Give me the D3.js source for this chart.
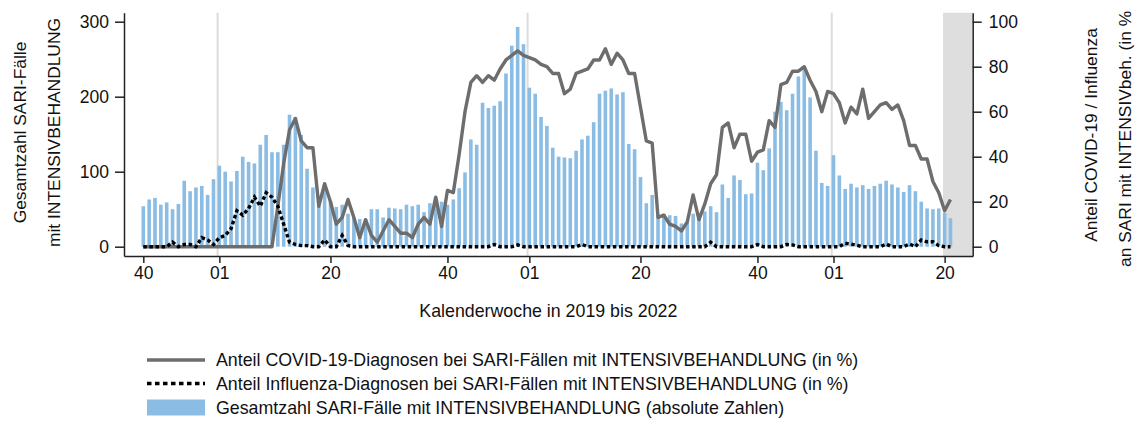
<!DOCTYPE html>
<html>
<head>
<meta charset="utf-8">
<script src="https://cdn.jsdelivr.net/npm/d3@7"></script>
<style>
  body { margin: 0; background: #fff; }
  svg text { font-family: "Liberation Sans", Arial, sans-serif; fill: #111; }
</style>
</head>
<body>
<svg id="chart" width="1137" height="421"></svg>
<script>
// calendar weeks shown: 2019 W40 .. 2022 W21
const seasonYears = [2019, 2020, 2021, 2022];
const firstWeek = [40, 1, 1, 1];
const lastWeek = [52, 53, 52, 21];

// Gesamtzahl SARI-Faelle mit Intensivbehandlung (absolute Zahlen)
const sariCases = [
  54, 63, 65, 56, 59, 50, 57, 88, 74, 79, 81, 69, 90,
  108, 100, 87, 101, 120, 113, 111, 136, 149, 126, 126, 136, 176, 173, 149, 104, 79, 61,
  84, 61, 53, 56, 44, 38, 37, 37, 50, 50, 39, 52, 51, 50, 56, 54, 56, 46, 58, 57, 60,
  56, 63, 78, 99, 143, 136, 192, 185, 188, 194, 231, 268, 293, 270,
  212, 204, 173, 161, 132, 120, 119, 118, 128, 143, 148, 166, 204, 208, 211, 203, 206,
  137, 130, 93, 58, 69, 42, 44, 42, 41, 31, 33, 44, 38, 47, 54, 46, 83, 65, 95, 89, 70,
  71, 112, 102, 131, 180, 193, 182, 204, 227, 237, 199, 128, 85, 81,
  122, 95, 77, 84, 79, 82, 77, 81, 84, 88, 83, 79, 73, 82, 74, 60, 51, 50, 51, 45, 38
];

// Anteil COVID-19-Diagnosen (in %)
const covidShare = [
  0, 0, 0, 0, 0, 0, 0, 0, 0, 0, 0, 0, 0,
  0, 0, 0, 0, 0, 0, 0, 0, 0, 0, 18, 37, 52, 57, 47, 44, 44, 18,
  28, 20, 10, 13, 21, 13, 4, 12, 5, 2, 7, 12, 9, 6, 6, 4, 10, 13, 10, 22, 9,
  25, 24, 41, 60, 73, 76, 73, 76, 74, 79, 83, 85, 87, 85,
  84, 83, 81, 80, 77, 77, 68, 70, 77, 78, 79, 83, 83, 88, 81, 86, 83,
  77, 77, 62, 47, 46, 13, 14, 10, 9, 7, 11, 23, 12, 19, 28, 32, 53, 55, 44, 50, 50,
  38, 42, 43, 56, 53, 72, 73, 78, 78, 80, 74, 69, 60, 69,
  68, 64, 55, 62, 59, 70, 57, 60, 63, 64, 61, 63, 56, 45, 45, 39, 39, 29, 24, 16, 21
];

// Anteil Influenza-Diagnosen (in %)
const fluShare = [
  0, 0, 0, 0, 0, 2, 0, 1, 1, 0, 4, 3, 1,
  4, 5, 8, 16, 14, 17, 22, 18, 24, 22, 18, 10, 2, 1, 0.5, 0.5, 0, 0,
  3, 0, 0, 5, 0.5, 0, 0, 0, 0, 0, 0, 0, 0, 0, 0, 0, 0, 0, 0, 0, 0,
  0, 0, 0, 0, 0, 0, 0, 0, 1, 0, 0, 0, 0.8, 0,
  0, 0, 0, 0, 0, 0, 0, 0, 0, 1, 0, 0, 0, 0, 0, 0, 0,
  0, 0, 0, 0, 0, 0, 0, 0, 0, 0, 0, 0, 0, 0, 2, 0, 0, 0, 0, 0, 0,
  0, 1, 0, 0, 0, 0, 1, 0.8, 0, 0, 0, 0, 0, 0,
  0, 0, 1.5, 1.2, 0.6, 0, 0, 0, 0, 1.2, 0, 0, 0, 1.2, 0, 3, 2.2, 2.2, 0.5, 0, 0
];

const xTickWeeks = [40, 1, 20];
const shadeFrom = { year: 2022, week: 20 };

const legendLabels = [
  "Anteil COVID-19-Diagnosen bei SARI-Fällen mit INTENSIVBEHANDLUNG (in %)",
  "Anteil Influenza-Diagnosen bei SARI-Fällen mit INTENSIVBEHANDLUNG (in %)",
  "Gesamtzahl SARI-Fälle mit INTENSIVBEHANDLUNG (absolute Zahlen)"
];

// build the week list
let weeks = [];
seasonYears.forEach((y, k) => {
  for (let w = firstWeek[k]; w <= lastWeek[k]; w++) weeks.push({ year: y, week: w });
});

const BAR_COLOR = "#8bbde4";
const COVID_COLOR = "#6d6d6d";

const svg = d3.select("#chart");

const x = d3.scaleLinear().domain([-3.3, weeks.length + 2.8]).range([124, 972.7]);
const yLeft = d3.scaleLinear().domain([-12.4, 312]).range([256, 12.7]);
const yRight = d3.scaleLinear().domain([-12.4 / 3, 104]).range([256, 12.7]);
const step = x(1) - x(0);

// grey shading for the last (incomplete) weeks
const shadeIdx = weeks.findIndex(d => d.year === shadeFrom.year && d.week === shadeFrom.week);
svg.append("rect")
  .attr("x", x(shadeIdx) - step * 0.27)
  .attr("y", yLeft.range()[1])
  .attr("width", x.range()[1] - (x(shadeIdx) - step * 0.27))
  .attr("height", yLeft.range()[0] - yLeft.range()[1])
  .attr("fill", "#dedede");

// year change lines
weeks.forEach((d, i) => {
  if (d.week === 1) {
    svg.append("line")
      .attr("x1", x(i - 0.3)).attr("x2", x(i - 0.3))
      .attr("y1", yLeft.range()[1]).attr("y2", yLeft.range()[0])
      .attr("stroke", "#dcdcdc").attr("stroke-width", 2);
  }
});

// bars
const bw = 3.6;
svg.append("g").selectAll("rect").data(sariCases).join("rect")
  .attr("x", (d, i) => x(i) - bw / 2)
  .attr("y", d => yLeft(d))
  .attr("width", bw)
  .attr("height", d => yLeft(0) - yLeft(d))
  .attr("fill", BAR_COLOR);

// lines
const shareLine = d3.line().x((d, i) => x(i)).y(d => yRight(d));
svg.append("path").datum(covidShare)
  .attr("d", shareLine)
  .attr("fill", "none")
  .attr("stroke", COVID_COLOR)
  .attr("stroke-width", 3.4)
  .attr("stroke-linejoin", "round");

svg.append("path").datum(fluShare)
  .attr("d", shareLine)
  .attr("fill", "none")
  .attr("stroke", "#000")
  .attr("stroke-width", 3.4)
  .attr("stroke-dasharray", "3.5,2.6");

// axes
const tickIdx = weeks.map((d, i) => i).filter(i => xTickWeeks.includes(weeks[i].week));
const xAxis = d3.axisBottom(x)
  .tickValues(tickIdx)
  .tickFormat(i => String(weeks[i].week).padStart(2, "0"))
  .tickSize(7).tickPadding(4).tickSizeOuter(0);

const leftAxis = d3.axisLeft(yLeft).tickValues([0, 100, 200, 300])
  .tickSize(9).tickPadding(6).tickSizeOuter(0);
const rightAxis = d3.axisRight(yRight).tickValues([0, 20, 40, 60, 80, 100])
  .tickSize(9).tickPadding(7).tickSizeOuter(0);

function styleAxis(g) {
  g.selectAll("path, line").attr("stroke", "#222").attr("stroke-width", 1.5);
  g.selectAll("text").attr("font-size", 17.5).attr("fill", "#111")
    .attr("font-family", "Liberation Sans, Arial, sans-serif");
}

svg.append("g").attr("transform", "translate(0," + yLeft.range()[0] + ")").call(xAxis).call(styleAxis);
svg.append("g").attr("transform", "translate(" + x.range()[0] + ",0)").call(leftAxis).call(styleAxis);
svg.append("g").attr("transform", "translate(" + x.range()[1] + ",0)").call(rightAxis).call(styleAxis);

// axis titles
svg.append("text")
  .attr("x", (x.range()[0] + x.range()[1]) / 2).attr("y", 317)
  .attr("text-anchor", "middle").attr("font-size", 17.8)
  .text("Kalenderwoche in 2019 bis 2022");

function vTitle(px, py, txt, anchor) {
  svg.append("text")
    .attr("transform", "translate(" + px + "," + py + ") rotate(-90)")
    .attr("text-anchor", anchor || "middle").attr("font-size", 17.4)
    .text(txt);
}
vTitle(25.5, 132.5, "Gesamtzahl SARI-Fälle");
vTitle(60, 132.5, "mit INTENSIVBEHANDLUNG");
vTitle(1097, 135, "Anteil COVID-19 / Influenza");
vTitle(1131, 267, "an SARI mit INTENSIVbeh. (in %", "start");

// legend
const legend = svg.append("g");
const rows = [360, 383.5, 407.5];
legend.append("line").attr("x1", 147).attr("x2", 205).attr("y1", rows[0]).attr("y2", rows[0])
  .attr("stroke", COVID_COLOR).attr("stroke-width", 3.4);
legend.append("line").attr("x1", 147).attr("x2", 205).attr("y1", rows[1]).attr("y2", rows[1])
  .attr("stroke", "#000").attr("stroke-width", 3.4).attr("stroke-dasharray", "4.5,3.5");
legend.append("rect").attr("x", 147).attr("y", rows[2] - 8).attr("width", 58).attr("height", 16)
  .attr("fill", BAR_COLOR);
legend.selectAll("text.lab").data(legendLabels).join("text")
  .attr("class", "lab")
  .attr("x", 216).attr("y", (d, i) => rows[i]).attr("dy", "0.36em")
  .attr("font-size", 17.8)
  .text(d => d);
</script>
</body>
</html>
